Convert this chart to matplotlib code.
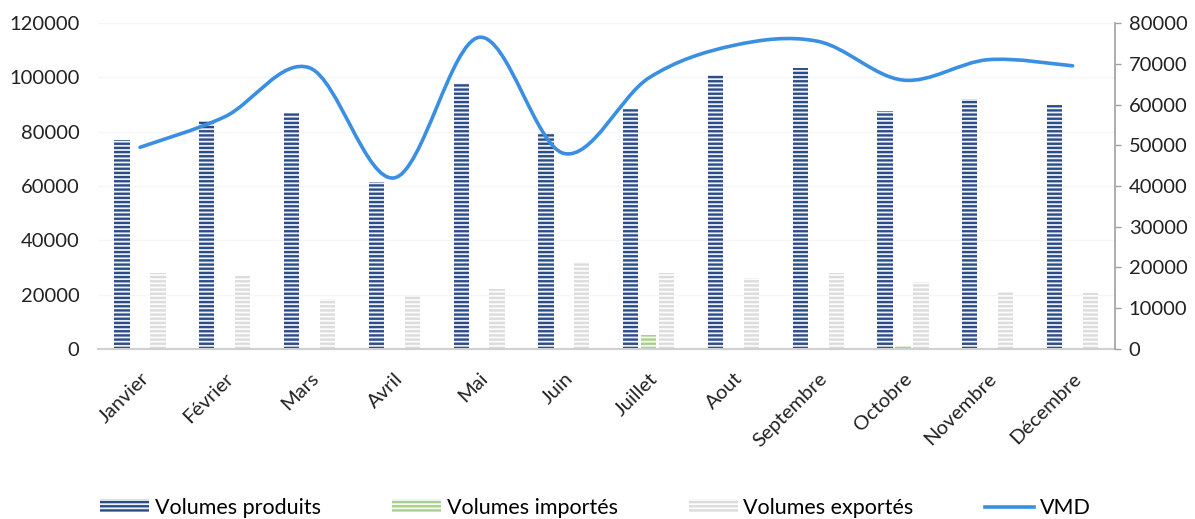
import matplotlib
matplotlib.use("Agg")
import matplotlib.pyplot as plt
from matplotlib.path import Path
from matplotlib.patches import PathPatch
import numpy as np

plt.rcParams['font.family'] = ['Lato', 'DejaVu Sans']
plt.rcParams['hatch.linewidth'] = 1.7

mois = ["Janvier", "Février", "Mars", "Avril", "Mai", "Juin",
        "Juillet", "Aout", "Septembre", "Octobre", "Novembre", "Décembre"]
produits = [77000, 84000, 87000, 61500, 98000, 79500,
            88500, 101000, 103500, 87500, 92000, 90000]
importes = [0, 0, 0, 0, 0, 0, 5000, 0, 0, 1000, 0, 0]
exportes = [28000, 27000, 18500, 19500, 22000, 32000,
            28000, 26000, 28000, 24500, 21000, 20500]
vmd = [49500, 57000, 69000, 42000, 76500, 48000,
       66500, 74500, 75500, 66000, 71000, 69500]

x = np.arange(len(mois))
w = 0.18
off = 0.212

fig = plt.figure(figsize=(11.95, 5.19), dpi=100)
ax = fig.add_axes([0.0817, 0.3276, 0.8513, 0.628])

ax.bar(x - off, produits, w, facecolor='#eef2f9', edgecolor='#2c4c87',
       hatch='----', linewidth=0, label='Volumes produits')
ax.bar(x, importes, w, facecolor='#f6faf3', edgecolor='#a8d08d',
       hatch='----', linewidth=0, label='Volumes importés')
ax.bar(x + off, exportes, w, facecolor='#fcfcfc', edgecolor='#dcdcdc',
       hatch='----', linewidth=0, label='Volumes exportés')

ax.set_xlim(-0.5, len(mois) - 0.5)
ax.set_ylim(0, 120000)
ax.set_yticks(np.arange(0, 120001, 20000))
ax.tick_params(axis='y', length=0, labelsize=14.5, pad=13, colors='#222222')
ax.tick_params(axis='x', length=0, labelsize=14.5, pad=15, colors='#222222')
ax.set_xticks(x)
ax.set_xticklabels(mois, rotation=45, ha='right', rotation_mode='anchor')
for s in ['top', 'left', 'right']:
    ax.spines[s].set_visible(False)
ax.spines['bottom'].set_color('#d0d0d0')
ax.spines['bottom'].set_linewidth(1.5)
ax.grid(axis='y', color='#f5f5f5', linewidth=1)
ax.set_axisbelow(True)

# VMD on the secondary axis, smoothed with cubic Bezier segments
ax2 = ax.twinx()
ax2.set_ylim(0, 80000)
ax2.set_yticks(np.arange(0, 80001, 10000))
ax2.tick_params(axis='y', length=4, width=1, colors='#a0a0a0',
                labelcolor='#222222', labelsize=14.5, pad=6)
for s in ['top', 'left', 'bottom']:
    ax2.spines[s].set_visible(False)
ax2.spines['right'].set_color('#a0a0a0')
ax2.spines['right'].set_linewidth(1.2)

pts = np.column_stack([x, vmd]).astype(float)
ext = np.vstack([pts[0], pts, pts[-1]])
verts = [tuple(pts[0])]
codes = [Path.MOVETO]
for i in range(len(pts) - 1):
    p0, p1, p2, p3 = ext[i], ext[i + 1], ext[i + 2], ext[i + 3]
    c1 = p1 + (p2 - p0) / 6.0
    c2 = p2 - (p3 - p1) / 6.0
    verts += [tuple(c1), tuple(c2), tuple(p2)]
    codes += [Path.CURVE4] * 3
ax2.add_patch(PathPatch(Path(verts, codes), facecolor='none',
                        edgecolor='#3a8fe3', linewidth=2.6,
                        capstyle='round', joinstyle='round'))
ax2.plot([], [], color='#3a8fe3', linewidth=2.6, label='VMD')

h1, l1 = ax.get_legend_handles_labels()
h2, l2 = ax2.get_legend_handles_labels()
fig.legend(h1 + h2, l1 + l2, loc='center', bbox_to_anchor=(0.498, 0.022),
           ncol=4, frameon=False, fontsize=15.5, handlelength=2.3,
           handleheight=0.55, columnspacing=3.3, handletextpad=0.25)

fig.savefig('out.png', dpi=100)
